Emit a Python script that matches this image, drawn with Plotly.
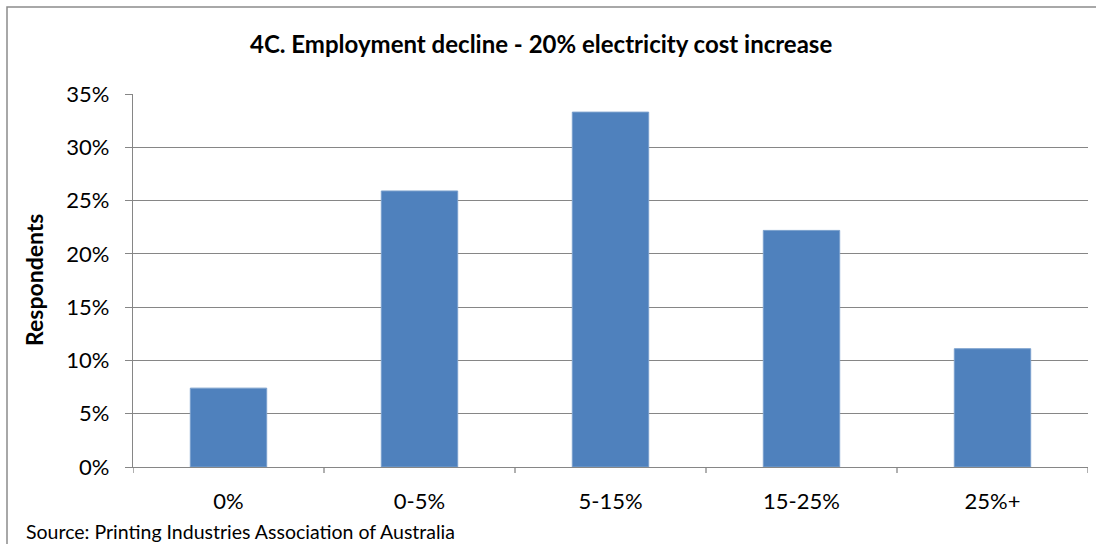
import plotly.graph_objects as go

# Survey results: share of respondents by expected employment decline
categories = ["0%", "0-5%", "5-15%", "15-25%", "25%+"]
respondents = [0.074, 0.259, 0.333, 0.222, 0.111]
y_ticks = [0, 0.05, 0.10, 0.15, 0.20, 0.25, 0.30, 0.35]
y_tick_labels = ["0%", "5%", "10%", "15%", "20%", "25%", "30%", "35%"]

title_text = "4C. Employment decline - 20% electricity cost increase"
y_title = "Respondents"
source_text = "Source: Printing Industries Association of Australia"

FONT = "Lato, Open Sans, sans-serif"
W, H = 1096, 544
L, R, T, B = 133, 8, 94, 77
plot_w = W - L - R
plot_h = H - T - B

def px_x(x):
    return (x - L) / plot_w

def px_y(y):
    return (H - B - y) / plot_h

fig = go.Figure()
fig.add_trace(go.Bar(
    x=list(range(len(categories))),
    y=respondents,
    width=0.4,
    marker=dict(color="#4F81BD", line=dict(color="#7BA0CD", width=1)),
    hoverinfo="skip",
))

# category boundary tick marks below the x-axis
for i in range(len(categories) + 1):
    fig.add_shape(type="line", xref="x", yref="paper",
                  x0=i - 0.5, x1=i - 0.5, y0=0, y1=-6 / plot_h,
                  line=dict(color="#868686", width=1.3))

# outer chart frame
fig.add_shape(type="rect", xref="paper", yref="paper",
              x0=px_x(7), x1=px_x(1110), y0=px_y(560), y1=px_y(7),
              line=dict(color="#8C8C8C", width=1.5), layer="below")

fig.add_annotation(text=f"<b>{title_text}</b>", xref="paper", yref="paper",
                   x=px_x(541), y=px_y(44), showarrow=False,
                   font=dict(family=FONT, size=24, color="#000000"),
                   xanchor="center", yanchor="middle")
fig.add_annotation(text=f"<b>{y_title}</b>", xref="paper", yref="paper",
                   x=px_x(34), y=px_y(280), showarrow=False, textangle=-90,
                   font=dict(family=FONT, size=23, color="#000000"),
                   xanchor="center", yanchor="middle")
fig.add_annotation(text=source_text, xref="paper", yref="paper",
                   x=px_x(24), y=px_y(531), showarrow=False,
                   font=dict(family=FONT, size=19.5, color="#000000"),
                   xanchor="left", yanchor="middle")

fig.update_layout(
    width=W, height=H,
    margin=dict(l=L, r=R, t=T, b=B, pad=0),
    plot_bgcolor="white", paper_bgcolor="white",
    showlegend=False,
    font=dict(family=FONT, size=22, color="#000000"),
    xaxis=dict(
        range=[-0.5, len(categories) - 0.5],
        tickmode="array",
        tickvals=list(range(len(categories))),
        ticktext=categories,
        ticks="", showgrid=False, zeroline=False,
        showline=True, linecolor="#868686", linewidth=1.3,
        tickfont=dict(family=FONT, size=22),
        ticklabelstandoff=14,
        fixedrange=True,
    ),
    yaxis=dict(
        range=[0, 0.35],
        tickmode="array",
        tickvals=y_ticks,
        ticktext=y_tick_labels,
        ticks="outside", ticklen=7, tickcolor="#868686", tickwidth=1.3,
        showgrid=True, gridcolor="#868686", gridwidth=1.3,
        zeroline=False,
        showline=True, linecolor="#868686", linewidth=1.3,
        tickfont=dict(family=FONT, size=22),
        ticklabelstandoff=11,
        fixedrange=True,
    ),
)

fig.write_html("out.html")
